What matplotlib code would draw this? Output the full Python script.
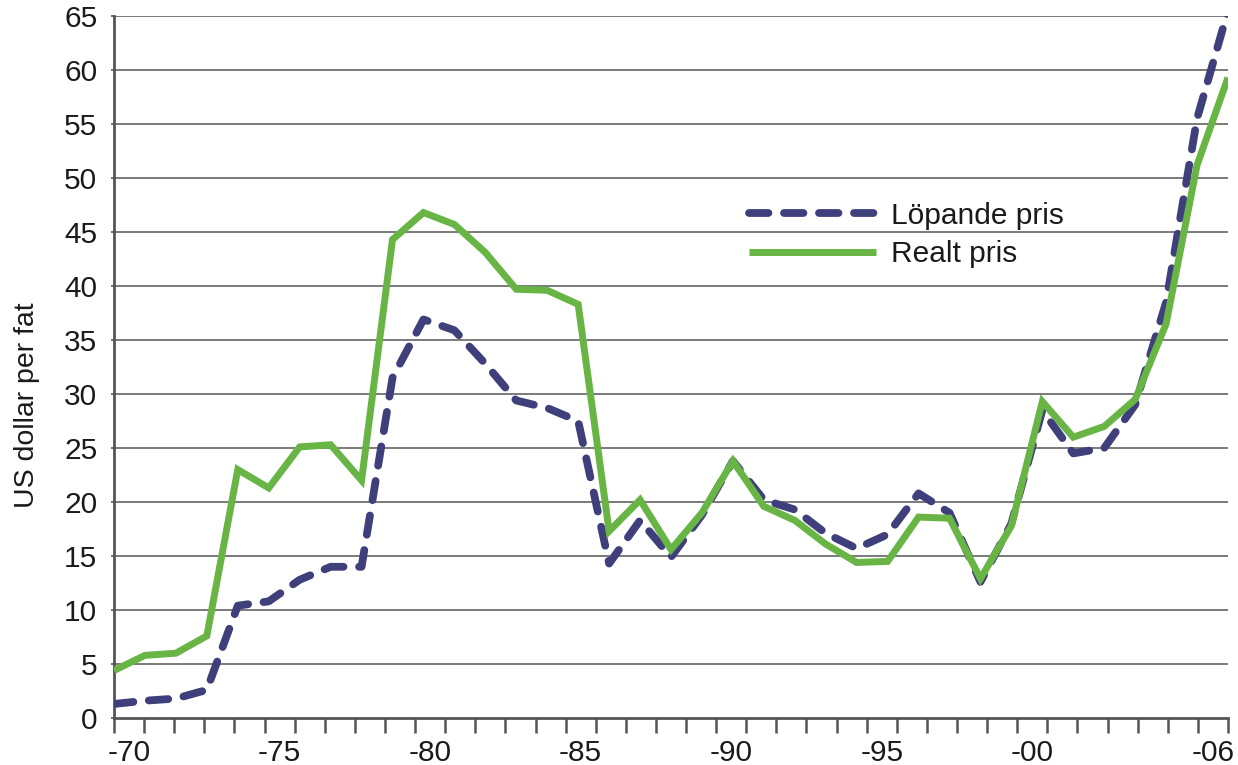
import matplotlib
matplotlib.use("Agg")
import matplotlib.pyplot as plt
import numpy as np

plt.rcParams['font.family'] = ['Liberation Sans', 'DejaVu Sans']

years = list(range(1970, 2007))
lopande = [1.3, 1.6, 1.8, 2.6, 10.4, 10.8, 12.8, 14.0, 14.0, 31.5,
           36.9, 35.9, 32.8, 29.4, 28.7, 27.5, 14.3, 18.3, 14.9, 18.8,
           23.8, 20.2, 19.3, 17.1, 15.7, 17.0, 20.8, 19.0, 12.6, 18.0,
           28.5, 24.5, 25.0, 29.0, 38.5, 55.5, 65.5]
realt = [4.4, 5.8, 6.0, 7.6, 23.0, 21.3, 25.1, 25.3, 22.0, 44.3,
         46.8, 45.7, 43.1, 39.7, 39.6, 38.3, 17.3, 20.2, 15.6, 19.0,
         23.8, 19.6, 18.3, 16.1, 14.4, 14.5, 18.6, 18.5, 12.9, 17.8,
         29.3, 26.0, 27.0, 29.5, 36.5, 51.2, 59.3]
label_years = [1970, 1975, 1980, 1985, 1990, 1995, 2000, 2006]
tick_labels = ['-70', '-75', '-80', '-85', '-90', '-95', '-00', '-06']
y_ticks = list(range(0, 70, 5))

W, H = 1238, 765
fig = plt.figure(figsize=(W / 100, H / 100), dpi=100)
ax = fig.add_axes([114 / W, 1 - 718 / H, (1228 - 114) / W, (718 - 16) / H])

n = len(years)
x = np.arange(n)

grid_c = '#7a7a7a'
for yv in y_ticks[1:]:
    ax.axhline(yv, color=grid_c, lw=1.4, zorder=1)

ax.plot(x, lopande, color='#3f3f7c', lw=5.6, dashes=(2.5, 2.0),
        dash_capstyle='round', solid_capstyle='round', label='Löpande pris', zorder=3)
ax.plot(x, realt, color='#68b545', lw=5.0, solid_capstyle='butt',
        solid_joinstyle='miter', label='Realt pris', zorder=4)

ax.set_xlim(0, n - 1)
ax.set_ylim(0, 65)

fs = 21.5
# category axis: n categories across the span
cw = (n - 1) / n
ax.set_xticks([k * cw for k in range(n + 1)])
ax.set_xticklabels([])
ax.set_xticks([(years.index(yy) + 0.5) * cw for yy in label_years], minor=True)
ax.set_xticklabels(tick_labels, minor=True)
ax.tick_params(axis='x', which='major', length=11, width=1.8, color='#555555', direction='out')
ax.tick_params(axis='x', which='minor', length=0, pad=15, labelsize=fs, labelcolor='#1a1a1a')

ax.set_yticks(y_ticks)
ax.set_yticklabels([str(v) for v in y_ticks])
ax.tick_params(axis='y', length=2, width=1.2, color='#555555', pad=10, labelsize=fs,
               labelcolor='#1a1a1a')

for s in ['top', 'right']:
    ax.spines[s].set_visible(False)
for s in ['left', 'bottom']:
    ax.spines[s].set_color('#555555')
    ax.spines[s].set_linewidth(2.0)

fig.text(27 / W, 1 - 405 / H, 'US dollar per fat', rotation=90, ha='center', va='center',
         fontsize=20.5, color='#1a1a1a')

leg = ax.legend(loc='upper left', bbox_to_anchor=((737 - 114) / 1114, (718 - 190) / 702),
                frameon=False, fontsize=fs, handlelength=4.25, handletextpad=0.5,
                labelspacing=0.35, borderaxespad=0)
for t in leg.get_texts():
    t.set_color('#1a1a1a')

fig.savefig('out.png', dpi=100)
